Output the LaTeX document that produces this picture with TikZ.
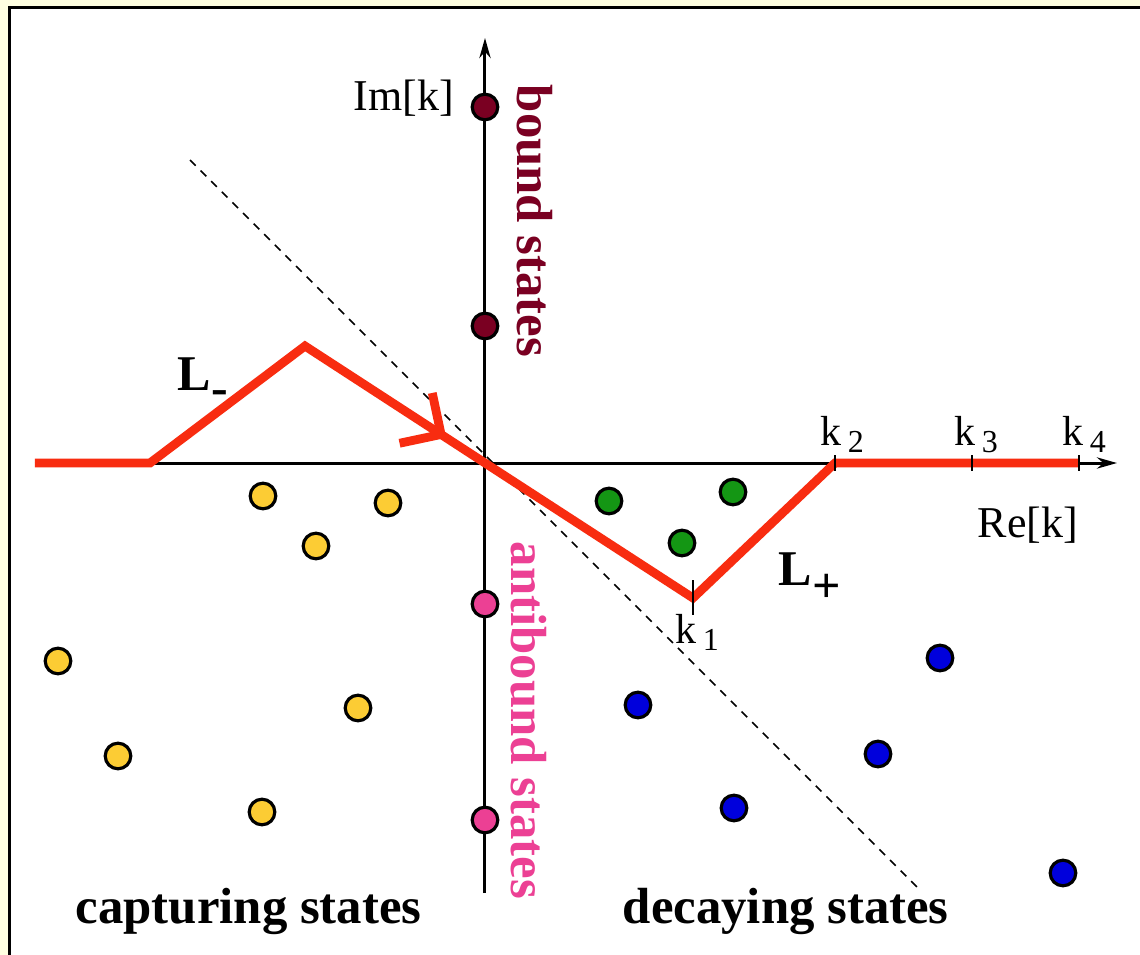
\documentclass[tikz,border=0pt]{standalone}
\usepackage{fontspec}
\setmainfont{Liberation Serif}
\usetikzlibrary{arrows.meta,decorations.markings}
\definecolor{bgyellow}{RGB}{255,255,225}
\definecolor{contourred}{RGB}{248,44,16}
\definecolor{boundred}{RGB}{122,0,34}
\definecolor{antipink}{RGB}{236,64,148}
\definecolor{capyellow}{RGB}{252,204,52}
\definecolor{resgreen}{RGB}{20,150,20}
\definecolor{decblue}{RGB}{0,0,220}

\begin{document}
\begin{tikzpicture}[x=0.25pt, y=-0.25pt,
  axis/.style={line width=0.75pt, -{Stealth[length=5pt, width=2.8pt, inset=1.6pt]}},
  contour/.style={draw=contourred, line width=2.2pt},
  dot/.style={circle, draw, line width=0.8pt, minimum size=6.4pt, inner sep=0pt},
  tick/.style={line width=0.5pt},
  lbl/.style={font=\fontsize{11}{13}\selectfont, inner sep=0pt, anchor=base west},
  klbl/.style={font=\fontsize{10.5}{12}\selectfont, inner sep=0pt, anchor=base west},
  region/.style={font=\fontsize{12.7}{15}\selectfont\bfseries, inner sep=0pt, anchor=base west},
  lname/.style={font=\fontsize{12.5}{15}\selectfont\bfseries, inner sep=0pt, anchor=base west}]
  \useasboundingbox (0,0) rectangle (1140,955);
  % frame
  \fill[bgyellow] (0,0) rectangle (1140,955);
  \fill[white] (9.5,7.5) rectangle (1140,955);
  \draw[line width=0.75pt] (9.5,955) -- (9.5,7.5) -- (1140,7.5);
  % axes and contour points
  \coordinate (O) at (485,463);
  \coordinate (xs) at (35,463); \coordinate (xe) at (1117,463);
  \coordinate (ys) at (485,893); \coordinate (ye) at (485,38);
  \coordinate (p1) at (150,463); \coordinate (p2) at (305,346);
  \coordinate (k1) at (693,598); \coordinate (k2) at (835,463);
  \coordinate (k3) at (972,463); \coordinate (k4) at (1079,463);
  \coordinate (dA) at (190,160); \coordinate (dB) at (918,888);
  \draw[dashed, line width=0.4pt, dash pattern=on 2pt off 1.75pt] (dA) -- (dB);
  \draw[axis] (xs) -- (xe);
  \draw[axis] (ys) -- (ye);
  \draw[contour] (xs) -- (p1) -- (p2) -- (O) -- (k1) -- (k2) -- (k4);
  \path[decorate, decoration={markings, mark=at position 0.756 with {\draw[contour] (-30,30) -- (0,0) -- (-30,-30);}}] (p2) -- (O);
  \draw[tick] (k1) +(0,-18) -- +(0,17);
  \draw[tick] (k2) +(0,-8) -- +(0,8);
  \draw[tick] (k3) +(0,-8) -- +(0,8);
  \draw[tick] (k4) +(0,-8) -- +(0,8);
  % labels
  \node[lbl] (im) at (353,110) {Im[k]};
  \node[lbl] (re) at (977,537) {Re[k]};
  \node[klbl] (k1l) at (675,643) {k\hspace{1.5pt}\raisebox{-1.75pt}{\fontsize{8}{9}\selectfont 1}};
  \node[klbl] (k2l) at (820,445) {k\hspace{1.5pt}\raisebox{-1.75pt}{\fontsize{8}{9}\selectfont 2}};
  \node[klbl] (k3l) at (954,445) {k\hspace{1.5pt}\raisebox{-1.75pt}{\fontsize{8}{9}\selectfont 3}};
  \node[klbl] (k4l) at (1062,445) {k\hspace{1.5pt}\raisebox{-1.75pt}{\fontsize{8}{9}\selectfont 4}};
  \node[lname] (lm) at (177,390) {L\raisebox{-3.5pt}{-}};
  \node[lname] (lp) at (778,585) {L\raisebox{-4.25pt}{+}};
  \node[region, rotate=-90, text=boundred] (bound) at (518,84) {bound states};
  \node[region, rotate=-90, text=antipink] (anti) at (512,541) {antibound states};
  \node[region] (cap) at (75,923) {capturing states};
  \node[region] (dec) at (622,923) {decaying states};
  % poles
  \node[dot, fill=boundred] (b1) at (485,107) {};
  \node[dot, fill=boundred] (b2) at (485,326) {};
  \node[dot, fill=antipink] (a1) at (485,604) {};
  \node[dot, fill=antipink] (a2) at (485,820) {};
  \node[dot, fill=capyellow] (c1) at (263,496) {};
  \node[dot, fill=capyellow] (c2) at (388,503) {};
  \node[dot, fill=capyellow] (c3) at (316,546) {};
  \node[dot, fill=capyellow] (c4) at (58,661) {};
  \node[dot, fill=capyellow] (c5) at (358,708) {};
  \node[dot, fill=capyellow] (c6) at (118,756) {};
  \node[dot, fill=capyellow] (c7) at (262,812) {};
  \node[dot, fill=resgreen] (g1) at (609,501) {};
  \node[dot, fill=resgreen] (g2) at (733,492) {};
  \node[dot, fill=resgreen] (g3) at (682,543) {};
  \node[dot, fill=decblue] (d1) at (940,658) {};
  \node[dot, fill=decblue] (d2) at (638,705) {};
  \node[dot, fill=decblue] (d3) at (878,754) {};
  \node[dot, fill=decblue] (d4) at (734,808) {};
  \node[dot, fill=decblue] (d5) at (1063,873) {};
\end{tikzpicture}
\end{document}
